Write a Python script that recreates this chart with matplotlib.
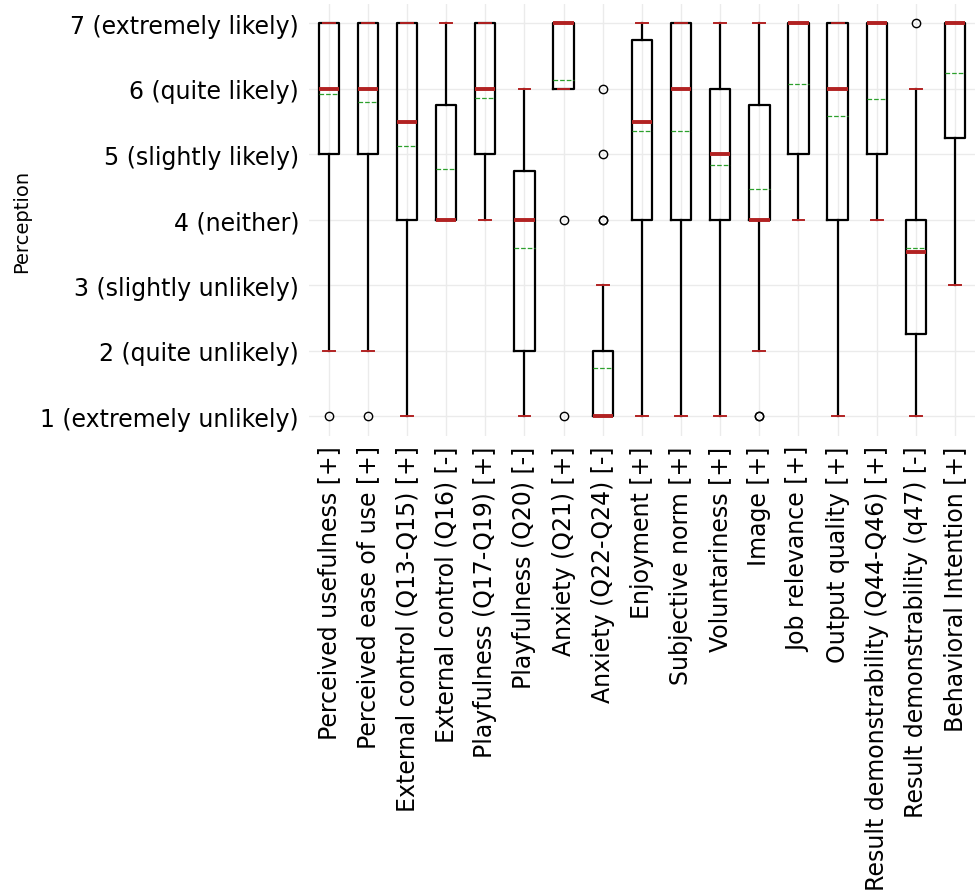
import matplotlib
matplotlib.use("Agg")
import matplotlib.pyplot as plt

# categories
labels = [
    "Perceived usefulness [+]", "Perceived ease of use [+]",
    "External control (Q13-Q15) [+]", "External control (Q16) [-]",
    "Playfulness (Q17-Q19) [+]", "Playfulness (Q20) [-]",
    "Anxiety (Q21) [+]", "Anxiety (Q22-Q24) [-]", "Enjoyment [+]",
    "Subjective norm [+]", "Voluntariness [+]", "Image [+]",
    "Job relevance [+]", "Output quality [+]",
    "Result demonstrability (Q44-Q46) [+]",
    "Result demonstrability (q47) [-]", "Behavioral Intention [+]",
]

# box statistics
whislo = [2, 2, 1, 4, 4, 1, 6, 1, 1, 1, 1, 2, 4, 1, 4, 1, 3]
q1     = [5, 5, 4, 4, 5, 2, 6, 1, 4, 4, 4, 4, 5, 4, 5, 2.25, 5.25]
med    = [6, 6, 5.5, 4, 6, 4, 7, 1, 5.5, 6, 5, 4, 7, 6, 7, 3.5, 7]
q3     = [7, 7, 7, 5.75, 7, 4.75, 7, 2, 6.75, 7, 6, 5.75, 7, 7, 7, 4, 7]
whishi = [7, 7, 7, 7, 7, 6, 7, 3, 7, 7, 7, 7, 7, 7, 7, 6, 7]
means  = [5.92, 5.80, 5.13, 4.78, 5.86, 3.57, 6.14, 1.73, 5.36, 5.36,
          4.83, 4.47, 6.07, 5.59, 5.85, 3.57, 6.24]
fliers = [[1], [1], [], [], [], [], [4, 1], [6, 5, 4, 4], [], [], [], [1, 1],
          [], [], [], [7], []]

yticks = [1, 2, 3, 4, 5, 6, 7]
ytick_labels = ["1 (extremely unlikely)", "2 (quite unlikely)",
                "3 (slightly unlikely)", "4 (neither)", "5 (slightly likely)",
                "6 (quite likely)", "7 (extremely likely)"]

stats = []
for i in range(len(labels)):
    stats.append(dict(label=labels[i], whislo=whislo[i], q1=q1[i], med=med[i],
                      q3=q3[i], whishi=whishi[i], mean=means[i],
                      fliers=fliers[i]))

fig = plt.figure(figsize=(9.77, 8.95), dpi=100)
ax = fig.add_axes([0.316, 0.512, 0.682, 0.482])

red = "#b22222"
ax.bxp(stats, widths=0.52, capwidths=0.3, showmeans=True, meanline=True,
       boxprops=dict(color="black", linewidth=1.6),
       whiskerprops=dict(color="black", linewidth=1.6),
       capprops=dict(color=red, linewidth=1.4),
       medianprops=dict(color=red, linewidth=2.8),
       meanprops=dict(color="#2ca02c", linestyle="--", linewidth=0.9),
       flierprops=dict(marker="o", markerfacecolor="none",
                       markeredgecolor="black", markersize=6,
                       markeredgewidth=1.0))

ax.set_xlim(0.49, 17.51)
ax.set_ylim(0.7, 7.29)
ax.set_yticks(yticks)
ax.set_yticklabels(ytick_labels, fontsize=17)
ax.set_xticklabels(labels, rotation=90, fontsize=17)
ax.tick_params(length=0, pad=7)

ax.grid(True, color="#ebebeb", linewidth=1.0)
ax.set_axisbelow(True)
for s in ax.spines.values():
    s.set_visible(False)

fig.text(22 / 977, 1 - 221 / 895, "Perception", rotation=90,
         ha="center", va="center", fontsize=14)

fig.savefig("out.png", dpi=100)
